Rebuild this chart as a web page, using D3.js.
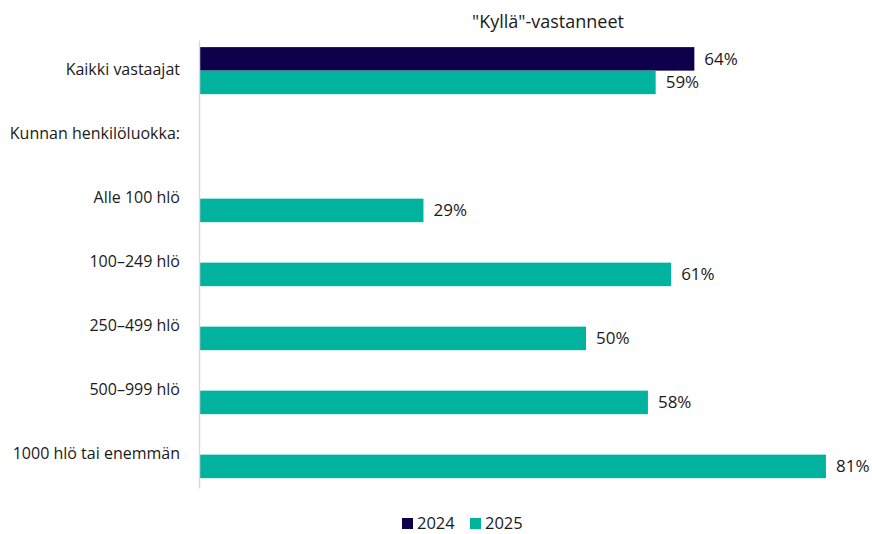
<!DOCTYPE html>
<html>
<head>
<meta charset="utf-8">
<script src="https://cdn.jsdelivr.net/npm/d3@7"></script>
<style>
  html, body { margin: 0; padding: 0; background: #fff; }
  svg { display: block; font-family: "Open Sans", "Liberation Sans", sans-serif; }
</style>
</head>
<body>
<script>
// Share of "yes" answers, all respondents and by municipality staff size
const categories = [
  "Kaikki vastaajat",
  "Kunnan henkilöluokka:",
  "Alle 100 hlö",
  "100–249 hlö",
  "250–499 hlö",
  "500–999 hlö",
  "1000 hlö tai enemmän"
];
const seriesNames = ["2024", "2025"];
const values2024 = [64, null, null, null, null, null, null];
const values2025 = [59, null, 29, 61, 50, 58, 81];
const title = "\"Kyllä\"-vastanneet";

const colors = { "2024": "#0e004b", "2025": "#00b39e" };
const textColor = "#1a1a1a";

const W = 872, H = 534;
const svg = d3.select("body").append("svg").attr("width", W).attr("height", H);

const x = d3.scaleLinear().domain([0, 100]).range([199, 973]);
const y = d3.scaleBand().domain(categories).range([40, 488]).padding(0);
const ySub = d3.scaleBand().domain(seriesNames)
  .range([0, y.bandwidth()]).paddingInner(0).paddingOuter(0.36).align(0.42);

const rows = categories.map((c, i) => ({ cat: c, "2024": values2024[i], "2025": values2025[i] }));

// bars with value labels
const g = svg.append("g");
rows.forEach(r => {
  seriesNames.forEach(s => {
    const v = r[s];
    if (v == null) return;
    const y0 = y(r.cat) + ySub(s);
    g.append("rect")
      .attr("x", x(0))
      .attr("y", y0)
      .attr("width", x(v) - x(0))
      .attr("height", ySub.bandwidth())
      .attr("fill", colors[s]);
    g.append("text")
      .attr("x", x(v) + 10)
      .attr("y", y0 + ySub.bandwidth() / 2)
      .attr("dy", "0.35em")
      .attr("font-size", 17)
      .attr("fill", textColor)
      .text(v + "%");
  });
});

// category axis
const axis = svg.append("g").attr("transform", `translate(${x(0)},0)`)
  .call(d3.axisLeft(y).tickSize(0).tickPadding(19));
axis.select(".domain").attr("stroke", "#d9d9d9").attr("stroke-width", 1.5);
axis.selectAll("text")
  .attr("font-size", 16)
  .attr("fill", textColor)
  .attr("font-family", "\"Open Sans\", \"Liberation Sans\", sans-serif")
  .attr("dy", "0.2em");

// title
svg.append("text")
  .attr("x", 548).attr("y", 28)
  .attr("text-anchor", "middle")
  .attr("font-size", 18)
  .attr("fill", textColor)
  .text(title);

// legend
const legend = svg.append("g").attr("transform", "translate(402,518)");
const items = [{ name: "2024", x: 0 }, { name: "2025", x: 68 }];
items.forEach(it => {
  legend.append("rect").attr("x", it.x).attr("y", 0).attr("width", 11).attr("height", 11)
    .attr("fill", colors[it.name]);
  legend.append("text").attr("x", it.x + 15).attr("y", 5.5).attr("dy", "0.35em")
    .attr("font-size", 16.5).attr("fill", textColor).text(it.name);
});
</script>
</body>
</html>
